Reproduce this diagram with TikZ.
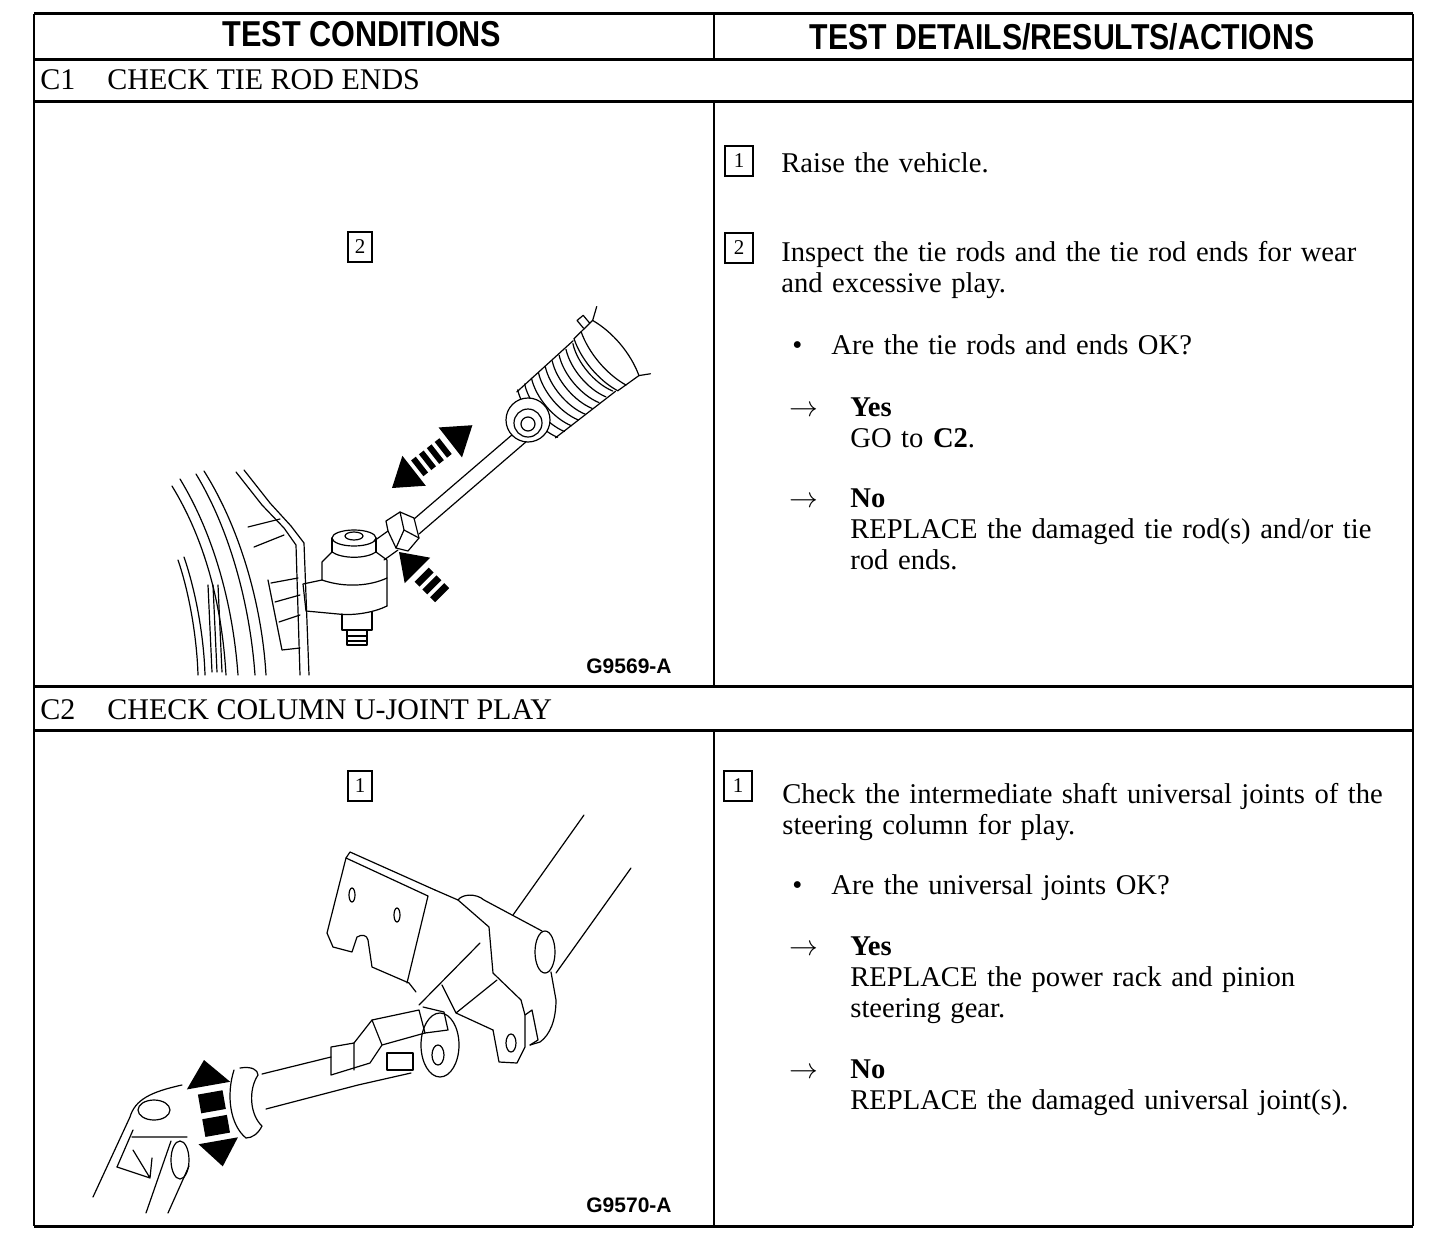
\documentclass[tikz,border=0pt]{standalone}
\usepackage{fontspec}
\setmainfont{Liberation Serif}
\setsansfont{Liberation Sans}

\begin{document}
\begin{tikzpicture}[x=0.5pt,y=-0.5pt,
    rule/.style={line width=1.5pt},
    vrule/.style={line width=1pt},
    hdr/.style={font=\sffamily\bfseries\fontsize{18}{20}\selectfont,anchor=base,inner sep=0pt},
    sect/.style={font=\fontsize{15}{17}\selectfont,anchor=base west,inner sep=0pt},
    body/.style={font=\fontsize{14.3}{15.5}\selectfont,anchor=base west,inner sep=0pt,text width=312pt,align=left},
    sym/.style={font=\fontsize{14.3}{15.5}\selectfont,anchor=base west,inner sep=0pt},
    numbox/.style={draw,line width=0.8pt,minimum width=14pt,minimum height=15pt,inner sep=0pt,font=\fontsize{10.5}{10.5}\selectfont},
    figid/.style={font=\sffamily\bfseries\fontsize{10.5}{12}\selectfont,anchor=base east,inner sep=0pt},
    art/.style={line width=0.6pt,line join=round,line cap=round}]
    \useasboundingbox[fill=white] (0,0) rectangle (1440,1236);
    %Table
    \draw[rule] (34,14) -- (1413,14) (34,60) -- (1413,60) (34,102) -- (1413,102)
        (34,686) -- (1413,686) (34,730) -- (1413,730) (34,1226) -- (1413,1226);
    \draw[vrule] (34,14) -- (34,1226) (1413,14) -- (1413,1226);
    \draw[vrule] (714,14) -- (714,60) (714,102) -- (714,686) (714,730) -- (714,1226);
    %Headers
    \node[hdr] (hleft) at (362,47) {\scalebox{0.85}[1]{TEST CONDITIONS}};
    \node[hdr] (hright) at (1062,50) {\scalebox{0.84}[1]{TEST DETAILS/RESULTS/ACTIONS}};
    \node[sect] (c1) at (40,90) {C1};
    \node[sect] (c1title) at (107,90) {CHECK TIE ROD ENDS};
    \node[sect] (c2) at (40,719) {C2};
    \node[sect] (c2title) at (107,719) {CHECK COLUMN U-JOINT PLAY};

    %C1 steps
    \node[numbox] (c1s1) at (739,161) {1};
    \node[body] (c1s1t) at (781,172) {Raise the vehicle.};
    \node[numbox] (c1s2) at (739,248) {2};
    \node[body] (c1s2t) at (781,261) {Inspect the tie rods and the tie rod ends for wear\\and excessive play.};
    \node[sym] (c1dot) at (792,354) {\textbullet};
    \node[body] (c1q) at (831,354) {Are the tie rods and ends OK?};
    \node[sym] (c1yarr) at (789,416) {$\rightarrow$};
    \node[body,text width=286pt] (c1yes) at (850,416) {\textbf{Yes}\\GO to \textbf{C2}.};
    \node[sym] (c1narr) at (789,507) {$\rightarrow$};
    \node[body,text width=286pt] (c1no) at (850,507) {\textbf{No}\\REPLACE the damaged tie rod(s) and/or tie\\rod ends.};

    %C2 steps
    \node[numbox] (c2s1) at (738,786) {1};
    \node[body] (c2s1t) at (782,803) {Check the intermediate shaft universal joints of the\\steering column for play.};
    \node[sym] (c2dot) at (792,894) {\textbullet};
    \node[body] (c2q) at (831,894) {Are the universal joints OK?};
    \node[sym] (c2yarr) at (789,955) {$\rightarrow$};
    \node[body,text width=286pt] (c2yes) at (850,955) {\textbf{Yes}\\REPLACE the power rack and pinion\\steering gear.};
    \node[sym] (c2narr) at (789,1078) {$\rightarrow$};
    \node[body,text width=286pt] (c2no) at (850,1078) {\textbf{No}\\REPLACE the damaged universal joint(s).};

    %Figure labels
    \node[numbox,minimum width=12pt] (fig1n) at (360,247) {2};
    \node[numbox,minimum width=12pt] (fig2n) at (360,786) {1};
    \node[figid] (fig1id) at (672,673) {G9569-A};
    \node[figid] (fig2id) at (672,1212) {G9570-A};

    %Tie rod: wheel
    \draw[art] (172,486) .. controls (205,540) and (222,605) .. (226,675);
    \draw[art] (180,479) .. controls (214,535) and (233,605) .. (238,675);
    \draw[art] (196,474) .. controls (230,530) and (250,605) .. (255,675);
    \draw[art] (204,471) .. controls (240,528) and (262,605) .. (266,675);
    \draw[art] (178,560) .. controls (190,595) and (197,640) .. (198,675);
    \draw[art] (184,557) .. controls (197,595) and (204,640) .. (205,675);
    \foreach \hx in {208,213,218} \draw[art] (\hx,585) -- (\hx+4,672);
    %Tie rod: knuckle
    \draw[art] (236,472) -- (262,505) -- (284,528) -- (296,545) -- (300,675);
    \draw[art] (244,470) -- (270,503) -- (291,526) -- (304,543) -- (309,675);
    \draw[art] (248,527) -- (280,519) (254,547) -- (284,535) (271,583) -- (298,578)
        (275,602) -- (300,595) (279,622) -- (300,615) (268,580) -- (282,650) -- (300,648);
    %Tie rod end
    \draw[art] (354,538) ellipse[x radius=22,y radius=8];
    \draw[art] (354,536) ellipse[x radius=9,y radius=4];
    \draw[art] (332,538) -- (332,552) (376,538) -- (376,552);
    \draw[art] (332,552) .. controls (342,559) and (366,559) .. (376,552);
    \draw[art] (332,552) -- (322,562) -- (322,580) (376,552) -- (387,560) -- (387,606);
    \draw[art] (322,580) .. controls (345,588) and (370,586) .. (387,578);
    \draw[art] (322,580) -- (303,584) -- (306,611) -- (338,614) .. controls (355,616) and (375,612) .. (387,606);
    \draw[art] (342,614) -- (342,630) -- (372,630) -- (372,612);
    \draw[art] (347,630) -- (347,645) -- (367,645) -- (367,630) (347,636) -- (367,636) (347,641) -- (367,641);
    \draw[art] (374,541) -- (388,531) (384,560) -- (398,550);
    \draw[art] (386,521) -- (400,512) -- (414,518) -- (419,538) -- (408,551) -- (396,548) -- (388,531) -- cycle;
    \draw[art] (400,512) -- (404,530) -- (419,538) (404,530) -- (396,548);
    %Tie rod and boot
    \draw[art] (414,519) -- (520,428) (419,534) -- (527,441);
    \begin{scope}[shift={(530,420)},rotate=40]
        \draw[art] (8,-30) -- (84,-33) (8,30) -- (84,33);
        \foreach \r in {10,19,...,82} \draw[art] (\r,-31) .. controls (\r-9,-14) and (\r-9,14) .. (\r,31);
        \draw[art] (86,-34) .. controls (78,-14) and (78,14) .. (86,34);
        \draw[art] (86,-34) -- (112,-36) (86,34) -- (112,36);
        \draw[art] (96,-35) .. controls (88,-14) and (88,14) .. (96,35);
        \draw[art] (100,-36) -- (100,-46) -- (108,-46) -- (108,-36);
        \draw[art] (112,-36) .. controls (120,-14) and (120,14) .. (112,36);
        \draw[art] (112,-36) -- (124,-44) (112,36) -- (122,42);
    \end{scope}
    \draw[art,fill=white] (528,420) circle[radius=22];
    \draw[art] (528,423) circle[radius=14];
    \draw[art] (528,424) circle[radius=7];
    %Tie rod arrows
    \begin{scope}[shift={(392,488)},rotate=38]
        \fill (0,0) -- (28,-19) -- (28,19) -- cycle;
        \fill (102,0) -- (74,-19) -- (74,19) -- cycle;
        \foreach \s in {32,42,52,62} \fill (\s,-10) rectangle (\s+6,10);
    \end{scope}
    \begin{scope}[shift={(399,552)},rotate=-45]
        \fill (0,0) -- (26,-18) -- (26,18) -- cycle;
        \foreach \s in {32,43,54} \fill (\s,-10) rectangle (\s+7,10);
    \end{scope}

    %U-joint: column
    \draw[art] (584,815) -- (513,915);
    \draw[art] (631,868) -- (556,973);
    %U-joint: bracket
    \draw[art] (346,858) -- (350,852) -- (435,890) (346,858) -- (428,896) -- (407,983);
    \draw[art] (346,858) -- (327,933) -- (333,947) -- (352,952) -- (357,937)
        .. controls (362,934) and (367,935) .. (368,940) -- (372,967) -- (409,983) -- (416,992);
    \draw[art] (352,895) ellipse[x radius=3,y radius=7];
    \draw[art] (397,915) ellipse[x radius=3,y radius=7];
    %U-joint: upper yoke
    \draw[art] (435,890) -- (458,900) .. controls (462,894) and (476,893) .. (484,900) -- (542,931);
    \draw[art] (545,952) ellipse[x radius=10,y radius=21];
    \draw[art] (458,900) -- (489,927) -- (493,973) -- (521,1000);
    \draw[art] (551,972) -- (556,1000) .. controls (556,1020) and (550,1035) .. (540,1042) -- (530,1045);
    \draw[art] (493,1030) -- (499,1062) -- (517,1063) -- (525,1047) -- (525,1015) -- (521,1000);
    \draw[art] (511,1043) ellipse[x radius=5,y radius=9];
    \draw[art] (525,1015) -- (532,1010) -- (538,1040) -- (530,1045);
    \draw[art] (497,980) -- (456,1013) -- (442,985) (456,1013) -- (493,1030) (480,943) -- (419,1005);
    %U-joint: lower yoke and shaft
    \draw[art] (440,1045) ellipse[x radius=19,y radius=32];
    \draw[art] (438,1055) ellipse[x radius=6,y radius=10];
    \draw[art] (331,1047) -- (354,1043) -- (372,1020) -- (419,1010) -- (425,1033) -- (382,1045) -- (370,1063) -- (331,1075) -- cycle;
    \draw[art] (354,1043) -- (354,1070) (372,1020) -- (382,1045);
    \draw[art] (387,1053) rectangle (413,1070);
    \draw[art] (423,1007) -- (444,1012) -- (448,1030) -- (425,1033);
    \draw[art] (331,1057) -- (262,1074) (411,1073) -- (358,1085) -- (266,1109);
    \draw[art] (234,1070) .. controls (226,1095) and (230,1125) .. (246,1138);
    \draw[art] (240,1068) .. controls (252,1066) and (258,1070) .. (258,1075) .. controls (248,1090) and (250,1115) .. (262,1126) .. controls (258,1134) and (252,1138) .. (246,1138);
    %U-joint: lower joint
    \draw[art] (93,1197) -- (130,1117) .. controls (135,1100) and (150,1092) .. (182,1085);
    \draw[art] (154,1110) ellipse[x radius=16,y radius=10];
    \draw[art] (180,1160) ellipse[x radius=9,y radius=19];
    \draw[art] (117,1167) -- (133,1130) (132,1137) -- (187,1137);
    \draw[art] (117,1167) -- (150,1178) -- (152,1158) (133,1150) -- (150,1178);
    \draw[art] (146,1213) -- (171,1141) (168,1213) -- (189,1166);
    %U-joint arrows
    \begin{scope}[shift={(204,1060)},rotate=-80]
        \fill (0,0) -- (26,-22) -- (26,22) -- cycle;
        \fill (33,-13) rectangle (52,12);
        \fill (58,-13) rectangle (76,12);
        \fill (108,0) -- (82,-20) -- (82,20) -- cycle;
    \end{scope}
\end{tikzpicture}
\end{document}
